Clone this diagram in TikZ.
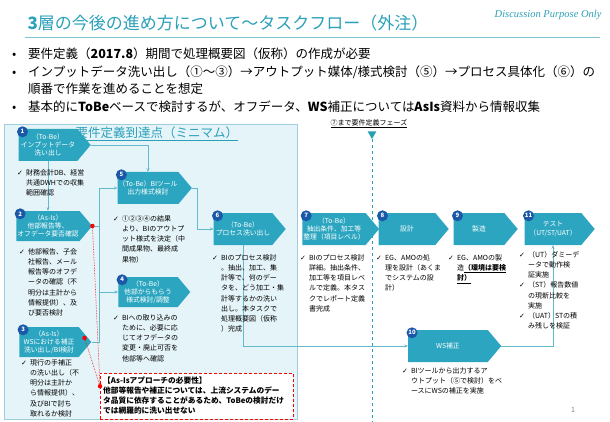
\documentclass[tikz,border=0pt]{standalone}
\usepackage{fontspec}
\setmainfont{Noto Sans CJK JP}
\newfontfamily\symfont{DejaVu Sans}
\newfontfamily\latinfont{Liberation Serif}
\usetikzlibrary{shapes.symbols,shapes.geometric,arrows.meta,positioning,backgrounds}
\definecolor{tealbox}{RGB}{44,166,192}
\definecolor{titleteal}{RGB}{42,160,185}
\definecolor{numblue}{RGB}{28,88,168}
\definecolor{regionfill}{RGB}{229,244,249}
\definecolor{regionline}{RGB}{160,205,220}
\definecolor{connteal}{RGB}{100,185,205}
\definecolor{phaseteal}{RGB}{40,160,180}
\newcommand{\chk}{{\symfont ✓}}
\newcommand{\memo}[1]{\begin{tabular}[t]{@{}l@{\hspace{3pt}}l@{}}#1\end{tabular}}
\newcommand{\bul}{\makebox[16pt][l]{•}}

\begin{document}
\begin{tikzpicture}
	[x=1pt,y=-1pt,
	task/.style={signal, signal to=east, signal pointer angle=100,
		fill=tealbox, text=white, minimum height=32pt, minimum width=72pt,
		inner sep=1pt, align=center, font=\fontsize{6.8}{8.2}\selectfont},
	num/.style={circle, fill=numblue, text=white, minimum size=11pt,
		inner sep=0pt, font=\fontsize{6}{6}\selectfont\bfseries},
	memo/.style={anchor=north west, inner sep=0pt, font=\fontsize{7}{10.2}\selectfont},
	bline/.style={anchor=west, inner sep=0pt, font=\fontsize{12.5}{14}\selectfont},
	conn/.style={draw=connteal, line width=0.6pt, -{Stealth[length=3.5pt,width=3pt]}},
	rdot/.style={circle, fill=red, minimum size=4.5pt, inner sep=0pt}]
	\useasboundingbox (0,0) rectangle (610,422);

	% heading
	\node[anchor=west, text=titleteal, font=\fontsize{17}{20}\selectfont] (ttl) at (24,23)
		{\textbf{3}層の今後の進め方について～タスクフロー（外注）};
	\node[anchor=east, text=titleteal, font=\latinfont\itshape\fontsize{10.5}{12}\selectfont] (dpo) at (605,15)
		{Discussion Purpose Only};
	\draw[titleteal!60, line width=0.8pt] (25,37) -- (600,37);
	\node[bline] (b1) at (12,54) {\bul 要件定義（\textbf{2017.8}）期間で処理概要図（仮称）の作成が必要};
	\node[bline] (b2) at (12,72) {\bul インプットデータ洗い出し（①～③）→アウトプット媒体/様式検討（⑤）→プロセス具体化（⑥）の};
	\node[bline] (b3) at (28,89) {順番で作業を進めることを想定};
	\node[bline] (b4) at (12,107) {\bul 基本的に\textbf{ToBe}ベースで検討するが、オフデータ、\textbf{WS}補正については\textbf{AsIs}資料から情報収集};

	% minimum scope
	\node[anchor=west, text=titleteal, font=\fontsize{12.5}{14}\selectfont] (lbl) at (72,134)
		{\underline{要件定義到達点（ミニマム）}};
	\node[font=\fontsize{7}{8}\selectfont] (ph) at (369,124) {\underline{⑦まで要件定義フェーズ}};
	\node[regular polygon, regular polygon sides=3, shape border rotate=180, fill=phaseteal,
		minimum size=10pt, inner sep=0pt] (tri) at (372,134) {};
	\coordinate (pend) at (372,422);

	% tasks
	\node[task] (n1) at (48,145) {（To-Be）\\インプットデータ\\洗い出し};
	\node[task, minimum height=30pt] (n2) at (48,226) {（As-Is）\\他部報告等、\\オフデータ要否確認};
	\node[task, minimum height=30pt] (n3) at (49,342) {（As-Is）\\WSにおける補正\\洗い出し/BI検討};
	\node[task] (n5) at (148,188) {（To-Be）BIツール\\出力様式検討};
	\node[task, minimum height=30pt] (n4) at (148,292) {（To-Be）\\他部からもらう\\様式検討/調整};
	\node[task] (n6) at (243,229) {（To-Be）\\プロセス洗い出し};
	\node[task] (n7) at (334,229) {（To-Be）\\抽出条件、加工等\\整理（項目レベル）};
	\node[task, minimum width=70pt] (n8) at (407,229) {設計};
	\node[task, minimum width=64pt] (n9) at (479,229) {製造};
	\node[task, minimum width=70pt] (n11) at (553,229) {テスト\\（UT/ST/UAT）};
	\node[task, minimum width=93pt] (n10) at (448,346) {WS補正};

	% step numbers
	\foreach \n in {1,2,3,4,5,6,7,8,9,10,11}
		\node[num] (k\n) at ([xshift=4pt,yshift=-3pt]n\n.north west) {\n};

	% notes under the tasks
	\node[memo] (c1) at (17,168) {\memo{\chk&財務会計DB、経営\\&共通DWHでの収集\\&範囲確認}};
	\node[memo] (c2) at (19,247) {\memo{\chk&他部報告、子会\\&社報告、メール\\&報告等のオフデ\\&ータの確認（不\\&明分は主計から\\&情報提供）、及\\&び要否検討}};
	\node[memo] (c3) at (21,358) {\memo{\chk&現行の手補正\\&の洗い出し（不\\&明分は主計か\\&ら情報提供）、\\&及びBIで討ち\\&取れるか検討}};
	\node[memo] (c5) at (113,214) {\memo{\chk&①②③④の結果\\&より、BIのアウトプ\\&ット様式を決定（中\\&間成果物、最終成\\&果物）}};
	\node[memo] (c4) at (113,313) {\memo{\chk&BIへの取り込みの\\&ために、必要に応\\&じてオフデータの\\&変更・廃止可否を\\&他部等へ確認}};
	\node[memo] (c6) at (212,253) {\memo{\chk&BIのプロセス検討\\&。抽出、加工、集\\&計等で、何のデー\\&タを、どう加工・集\\&計等するかの洗い\\&出し。本タスクで\\&処理概要図（仮称\\&）完成}};
	\node[memo] (c7) at (300,253) {\memo{\chk&BIのプロセス検討\\&詳細。抽出条件、\\&加工等を項目レベ\\&ルで定義。本タス\\&クでレポート定義\\&書完成}};
	\node[memo] (c8) at (376,253) {\memo{\chk&EG、AMOの処\\&理を設計（あくま\\&でシステムの設\\&計）}};
	\node[memo] (c9) at (448,253) {\memo{\chk&EG、AMOの製\\&造\underline{\textbf{（環境は要検}}\\&\underline{\textbf{討）}}}};
	\node[memo] (c11) at (519,250) {\memo{\chk&（UT）ダミーデ\\&ータで動作検\\&証実施\\\chk&（ST）報告数値\\&の現新比較を\\&実施\\\chk&（UAT）STの積\\&み残しを検証}};
	\node[memo] (c10) at (402,366) {\memo{\chk&BIツールから出力するア\\&ウトプット（⑤で検討）をベ\\&ースにWSの補正を実施}};

	% as-is callout
	\node[draw=red, densely dashed, fill=white, anchor=north west, inner sep=0pt,
		minimum width=193pt, minimum height=46pt] (note) at (100,373) {};
	\node[anchor=north west, inner sep=0pt, font=\bfseries\fontsize{7.7}{10}\selectfont] (notetxt) at (103,376)
		{\begin{tabular}{@{}l@{}}\smash{【As-Isアプローチの必要性】}\\\smash{他部等報告や補正については、上流システムのデー}\\\smash{タ品質に依存することがあるため、ToBeの検討だけ}\\\smash{では網羅的に洗い出せない}\end{tabular}};
	\node[rdot] (d2) at (n2.east) {};
	\node[rdot] (d3) at ([xshift=-7pt,yshift=4pt]n3.east) {};
	\node[rdot] (d0) at ([yshift=10pt]note.west) {};
	\draw[red, densely dotted, line width=0.6pt] (d2) -- (d0) (d3) -- (d0);

	\node[font=\fontsize{7}{8}\selectfont, text=gray] (pg) at (573,410) {1};

	% background: scope panel and connectors
	\begin{scope}[on background layer]
		\draw[draw=regionline, fill=regionfill] (4,124) rectangle (297,419);
		\draw[phaseteal, dashed, line width=1pt] (tri.south) -- (pend);
		\coordinate (bus) at (99,188);
		\coordinate (j56) at (197,188);
		\draw[conn] (n1.south) -- (n2.north);
		\draw[conn] (n1.east) -| (n5.north);
		\draw[conn] (n3.east) -| (bus) -- (n5.west);
		\draw[connteal, line width=0.6pt] (n2.east) -- (n2.east -| bus);
		\draw[conn] (n4.west -| bus) -- (n4.west);
		\draw[conn] (n5.east) -- (j56) |- (n6.west);
		\draw[conn] (n6.south) |- (n10.west);
		\draw[conn] (n10.east) -| (n11.south);
	\end{scope}
\end{tikzpicture}
\end{document}
